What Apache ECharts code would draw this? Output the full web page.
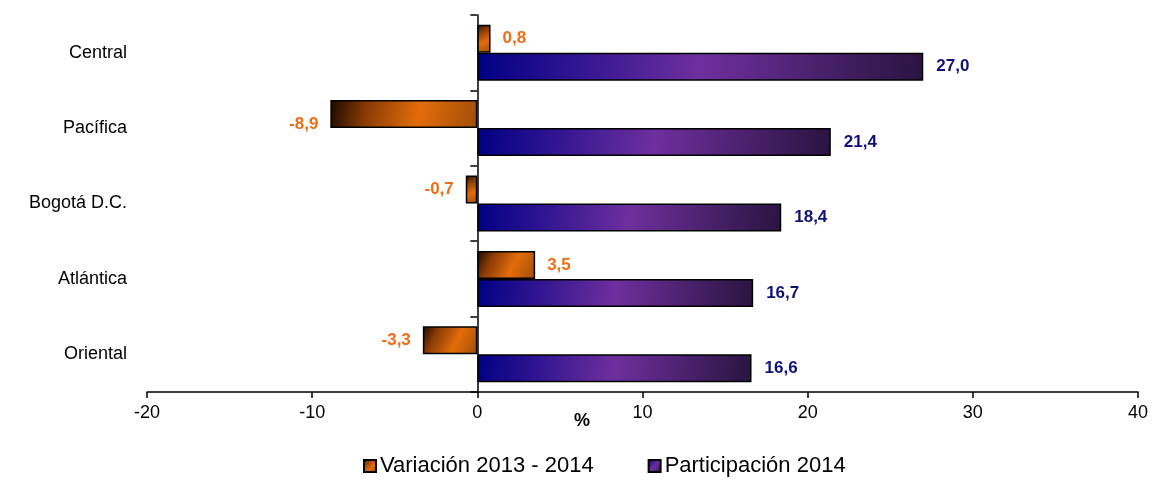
<!DOCTYPE html>
<html>
<head>
<meta charset="utf-8">
<script src="https://cdn.jsdelivr.net/npm/echarts@6/dist/echarts.min.js"></script>
<style>
  html, body { margin: 0; padding: 0; background: #fff; }
  #chart { width: 1157px; height: 485px; }
</style>
</head>
<body>
<div id="chart"></div>
<script>
// Regiones y valores (%)
const regiones = ['Central', 'Pacífica', 'Bogotá D.C.', 'Atlántica', 'Oriental'];
const variacion = [0.8, -8.9, -0.7, 3.5, -3.3];
const participacion = [27.0, 21.4, 18.4, 16.7, 16.6];
const xTicks = [-20, -10, 0, 10, 20, 30, 40];

const chart = echarts.init(document.getElementById('chart'));
const fmt = v => v.toFixed(1).replace('.', ',');
const FONT = 'Liberation Sans, Arial, sans-serif';

const orangeFill = new echarts.graphic.LinearGradient(0, 0, 1, 1, [
  { offset: 0, color: '#1a0800' },
  { offset: 0.25, color: '#8a3c05' },
  { offset: 0.6, color: '#e36c0a' },
  { offset: 1, color: '#a04e08' }
]);
const purpleFill = new echarts.graphic.LinearGradient(0, 0, 1, 1, [
  { offset: 0, color: '#000085' },
  { offset: 0.5, color: '#6e2f9e' },
  { offset: 1, color: '#2a1440' }
]);

chart.setOption({
  animation: false,
  textStyle: { fontFamily: FONT },
  grid: { left: 147, right: 19, top: 15, bottom: 93 },
  legend: {
    top: 455,
    left: 363,
    padding: 0,
    icon: 'rect',
    itemWidth: 12,
    itemHeight: 12,
    itemGap: 54,
    textStyle: { fontSize: 22, color: '#000', padding: [0, 0, 0, -1] },
    data: ['Variación 2013 - 2014', 'Participación 2014']
  },
  graphic: [{
    type: 'text',
    left: 574, top: 412,
    style: { text: '%', fontSize: 18, fontWeight: 'bold', fill: '#000', fontFamily: FONT }
  }],
  xAxis: {
    type: 'value',
    min: xTicks[0],
    max: xTicks[xTicks.length - 1],
    interval: 10,
    splitLine: { show: false },
    axisLine: { show: true, onZero: false, lineStyle: { color: '#000', width: 1.5 } },
    axisTick: { show: true, length: 6, lineStyle: { color: '#000', width: 1.5 } },
    axisLabel: { fontSize: 18, color: '#000', margin: 12 }
  },
  yAxis: [{
    type: 'category',
    data: regiones,
    inverse: true,
    axisLine: { show: false, onZero: false },
    axisTick: { show: false },
    axisLabel: { fontSize: 18, color: '#000', margin: 20 }
  }, {
    type: 'category',
    data: regiones,
    inverse: true,
    position: 'left',
    axisLine: { show: true, onZero: true, lineStyle: { color: '#000', width: 1.5 } },
    axisTick: { show: true, length: 7, lineStyle: { color: '#000', width: 1.5 } },
    axisLabel: { show: false }
  }],
  series: [{
    name: 'Variación 2013 - 2014',
    type: 'bar',
    yAxisIndex: 0,
    barWidth: 28,
    barGap: '0%',
    data: variacion.map((v, i) => ({
      value: v,
      label: { position: v < 0 ? 'left' : 'right', offset: i === 1 ? [0, 10] : [0, 0] }
    })),
    itemStyle: { color: orangeFill, borderColor: '#000', borderWidth: 1.5 },
    label: {
      show: true,
      distance: 12,
      fontSize: 17,
      fontWeight: 'bold',
      color: '#f36c14',
      formatter: p => fmt(p.value)
    }
  }, {
    name: 'Participación 2014',
    type: 'bar',
    yAxisIndex: 0,
    barWidth: 28,
    barGap: '0%',
    data: participacion,
    itemStyle: { color: purpleFill, borderColor: '#000', borderWidth: 1.5 },
    label: {
      show: true,
      position: 'right',
      distance: 13,
      fontSize: 17,
      fontWeight: 'bold',
      color: '#10107a',
      formatter: p => fmt(p.value)
    }
  }]
});
</script>
</body>
</html>
